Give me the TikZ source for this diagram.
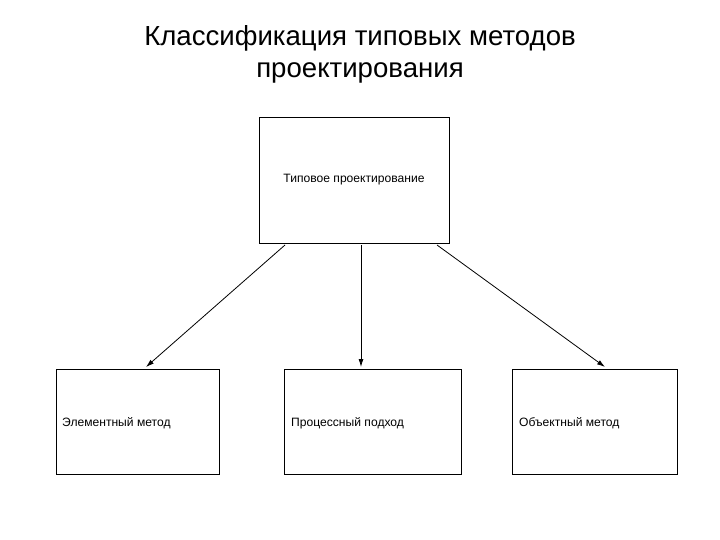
\documentclass[tikz,border=0pt]{standalone}
\usepackage{fontspec}
\setmainfont{Liberation Sans}
\usetikzlibrary{arrows.meta}
\begin{document}
\begin{tikzpicture}[x=1pt,y=-1pt,
  box/.style={draw,line width=0.8pt,inner sep=0pt},
  lbl/.style={font=\fontsize{12.1}{14}\selectfont,anchor=west,inner sep=0pt},
  conn/.style={draw,line width=0.8pt,-{Latex[length=8pt,width=5pt]}}]
\useasboundingbox (0,0) rectangle (720,540);
\node[font=\fontsize{27.6}{32}\selectfont,align=center] (title) at (360,54) {Классификация типовых методов\\проектирования};
\draw[box] (259,117) rectangle (449,243);
\node[font=\fontsize{12.1}{14}\selectfont] (top) at (354,180) {Типовое проектирование};
\draw[box] (56,369) rectangle (219,474);
\draw[box] (284,369) rectangle (461,474);
\draw[box] (512,369) rectangle (677,474);
\node[lbl] (b1) at (62,423) {Элементный метод};
\node[lbl] (b2) at (291,423) {Процессный подход};
\node[lbl] (b3) at (519,423) {Объектный метод};
\coordinate (s1) at (285,245); \coordinate (e1) at (146,367);
\coordinate (s2) at (361,245); \coordinate (e2) at (361,367);
\coordinate (s3) at (437,245); \coordinate (e3) at (605,367);
\draw[conn] (s1) -- (e1);
\draw[conn] (s2) -- (e2);
\draw[conn] (s3) -- (e3);
\end{tikzpicture}
\end{document}
